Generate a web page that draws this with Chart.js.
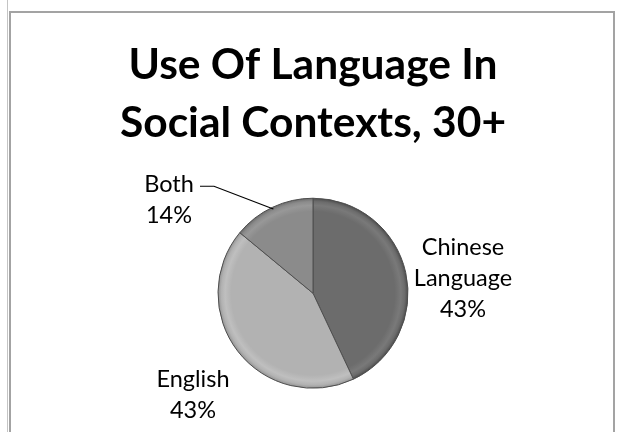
<!DOCTYPE html>
<html>
<head>
<meta charset="utf-8">
<title>Use Of Language In Social Contexts, 30+</title>
<script src="https://cdn.jsdelivr.net/npm/chart.js@4/dist/chart.umd.min.js"></script>
<style>
  html, body { margin: 0; padding: 0; background: #fff; }
  #page { position: relative; width: 617px; height: 432px; overflow: hidden; }
  .rule { position: absolute; left: 7px; top: 0; width: 1px; height: 432px; background: #c4c4c4; }
  .frame {
    position: absolute; left: 9px; top: 11px; width: 602px; height: 440px;
    border: 2px solid #a3a3a3;
  }
  #wrap { position: absolute; left: 0; top: 0; width: 617px; height: 432px; }
</style>
</head>
<body>
<div id="page">
  <div class="rule"></div>
  <div class="frame"></div>
  <div id="wrap"><canvas id="pieChart"></canvas></div>
</div>
<script>
  // slice data, clockwise from 12 o'clock
  const categories = ["Chinese Language", "English", "Both"];
  const shares = [43, 43, 14];
  const sliceColors = ["#6c6c6c", "#b2b2b2", "#8b8b8b"];

  // label text lines per slice, and where each block sits relative to the pie centre
  const labelLines = [["Chinese", "Language"], ["English"], ["Both"]];
  const labelOffsets = [[150, -38], [-120, 94], [-144, -101]];

  const FONT = "Lato, 'Open Sans', sans-serif";
  const PIE_RADIUS = 95;

  // flat fill with a soft lighter rim and a dark edge, for a bevelled look
  function bevelFill(context) {
    const chart = context.chart;
    const area = chart.chartArea;
    const base = sliceColors[context.dataIndex];
    if (!area) return base;
    const cx = (area.left + area.right) / 2;
    const cy = (area.top + area.bottom) / 2;
    const g = chart.ctx.createRadialGradient(cx, cy, 0, cx, cy, PIE_RADIUS);
    g.addColorStop(0, base);
    g.addColorStop(0.86, base);
    g.addColorStop(0.925, shade(base, 13));
    g.addColorStop(0.965, base);
    g.addColorStop(0.99, shade(base, -22));
    g.addColorStop(1, shade(base, -45));
    return g;
  }

  function shade(hex, amt) {
    const n = parseInt(hex.slice(1), 16);
    const c = (v) => Math.max(0, Math.min(255, v + amt));
    const r = c(n >> 16), gr = c((n >> 8) & 255), b = c(n & 255);
    return "rgb(" + r + "," + gr + "," + b + ")";
  }

  const sliceLabels = {
    id: "sliceLabels",
    afterDatasetsDraw(chart) {
      const ctx = chart.ctx;
      const meta = chart.getDatasetMeta(0);
      const total = shares.reduce((a, b) => a + b, 0);
      ctx.save();
      ctx.font = "23.5px " + FONT;
      ctx.fillStyle = "#000";
      ctx.textAlign = "center";
      ctx.textBaseline = "alphabetic";
      meta.data.forEach((arc, i) => {
        const lines = labelLines[i].concat([Math.round(shares[i] / total * 100) + "%"]);
        const x = arc.x + labelOffsets[i][0];
        let y = arc.y + labelOffsets[i][1];
        lines.forEach((t) => {
          ctx.fillText(t, x, y);
          y += 31;
        });
      });

      // leader line from "Both" to its slice
      const both = meta.data[2];
      const mid = (both.startAngle + both.endAngle) / 2;
      const ex = both.x + Math.cos(mid) * both.outerRadius * 0.98;
      const ey = both.y + Math.sin(mid) * both.outerRadius * 0.98;
      const lx = both.x + labelOffsets[2][0];
      const ly = both.y + labelOffsets[2][1];
      ctx.beginPath();
      ctx.moveTo(lx + 31, ly - 6);
      ctx.lineTo(lx + 45, ly - 6);
      ctx.lineTo(ex, ey);
      ctx.strokeStyle = "#000";
      ctx.lineWidth = 1.2;
      ctx.stroke();
      ctx.restore();
    }
  };

  new Chart(document.getElementById("pieChart"), {
    type: "pie",
    data: {
      labels: categories,
      datasets: [{
        data: shares,
        backgroundColor: bevelFill,
        borderColor: "#4e4e4e",
        borderWidth: 1,
        radius: PIE_RADIUS
      }]
    },
    options: {
      responsive: true,
      maintainAspectRatio: false,
      animation: false,
      layout: { padding: { left: 9, right: 0, top: 0, bottom: 44 } },
      plugins: {
        legend: { display: false },
        tooltip: { enabled: false },
        title: {
          display: true,
          text: ["Use Of Language In", "Social Contexts, 30+"],
          color: "#000",
          font: { family: FONT, size: 42.5, weight: "bold", lineHeight: 1.37 },
          padding: { top: 36, bottom: 46 }
        }
      }
    },
    plugins: [sliceLabels]
  });
</script>
</body>
</html>
